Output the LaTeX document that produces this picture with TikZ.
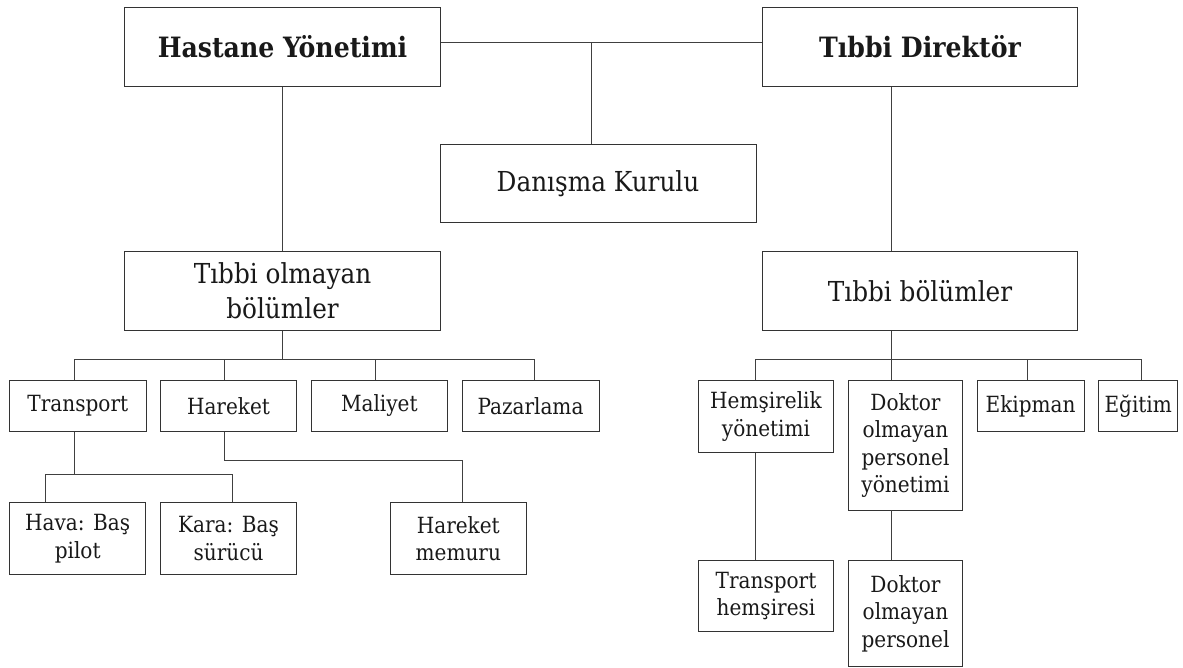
\documentclass[tikz,border=0pt]{standalone}
\usepackage{fontspec}
\setmainfont{DejaVu Serif Condensed}
\begin{document}
\begin{tikzpicture}[x=1pt,y=-1pt,
  box/.style={draw=black!80, line width=0.9pt, inner sep=0pt, align=center, text=black!90},
  top/.style={box, minimum width=316pt, minimum height=79.4pt, font=\bfseries\fontsize{28}{34}\selectfont},
  mid/.style={box, minimum width=316pt, minimum height=78.6pt, font=\fontsize{27.5}{35}\selectfont},
  small/.style={box, font=\fontsize{22.3}{27.5}\selectfont},
  conn/.style={draw=black!75, line width=0.8pt}]
\useasboundingbox (0,0) rectangle (1183,668);
% top level
\node[top] (HY) at (282.5,47) {Hastane Yönetimi};
\node[top, minimum width=315pt] (TD) at (920,47) {Tıbbi Direktör};
\node[mid] (DK) at (598,183.3) {Danışma Kurulu};
\node[mid] (TO) at (282.5,291) {Tıbbi olmayan\\bölümler};
\node[mid, minimum width=315pt] (TB) at (920,291) {Tıbbi bölümler};
% left level 2
\node[small, minimum width=136.4pt, minimum height=50.6pt] (TR) at (77.8,406) {Transport};
\node[small, minimum width=136.2pt, minimum height=50.6pt] (HA) at (228.5,406) {Hareket};
\node[small, minimum width=136.5pt, minimum height=50.6pt] (MA) at (379.3,406) {Maliyet};
\node[small, minimum width=137pt, minimum height=50.6pt] (PA) at (530.5,406) {Pazarlama};
% left level 3
\node[small, minimum width=136.2pt, minimum height=71.6pt] (HV) at (77.7,538.5) {Hava: Baş\\pilot};
\node[small, minimum width=136.2pt, minimum height=71.6pt] (KA) at (228.5,538.5) {Kara: Baş\\sürücü};
\node[small, minimum width=136.6pt, minimum height=71.6pt] (HM) at (458.3,538.5) {Hareket\\memuru};
% right level 2
\node[small, minimum width=135.4pt, minimum height=71.6pt] (HE) at (766,416.5) {Hemşirelik\\yönetimi};
\node[small, minimum width=114.4pt, minimum height=129.3pt] (DY) at (905.5,445.3) {Doktor\\olmayan\\personel\\yönetimi};
\node[small, minimum width=106.8pt, minimum height=50.6pt] (EK) at (1030.6,406) {Ekipman};
\node[small, minimum width=79.2pt, minimum height=50.6pt] (EG) at (1138.2,406) {Eğitim};
% right level 3
\node[small, minimum width=135.4pt, minimum height=71.4pt] (TH) at (766,596) {Transport\\hemşiresi};
\node[small, minimum width=114.4pt, minimum height=106.4pt] (DP) at (905.5,613.5) {Doktor\\olmayan\\personel};
% connectors top
\coordinate (j1) at (591,42.7);
\draw[conn] ([yshift=4.3pt]HY.east) -- ([yshift=4.3pt]TD.west);
\draw[conn] (j1) -- (j1 |- DK.north);
\draw[conn] (HY.south) -- (TO.north);
\draw[conn] ([xshift=-29pt]TD.south) -- ([xshift=-29pt]TB.north);
% left bus
\coordinate (busL) at (282.5,359);
\draw[conn] (TO.south) -- (busL);
\draw[conn] ([xshift=-3.8pt]TR.north) |- (busL);
\draw[conn] ([xshift=-3.9pt]HA.north) |- (busL);
\draw[conn] ([xshift=-4.3pt]MA.north) |- (busL);
\draw[conn] ([xshift=3.5pt]PA.north) |- (busL);
% transport children
\coordinate (busT) at (74,474.3);
\draw[conn] ([xshift=-3.8pt]TR.south) -- (busT);
\draw[conn] ([xshift=-32.2pt]HV.north) |- (busT);
\draw[conn] ([xshift=3.8pt]KA.north) |- (busT);
% hareket child
\draw[conn] ([xshift=-3.9pt]HA.south) -- ++(0,28.7) -| ([xshift=3.7pt]HM.north);
% right bus
\coordinate (busR) at (891,359);
\draw[conn] ([xshift=-29pt]TB.south) -- (busR);
\draw[conn] ([xshift=-10.3pt]HE.north) |- (busR);
\draw[conn] ([xshift=-14.5pt]DY.north) |- (busR);
\draw[conn] ([xshift=-3.2pt]EK.north) |- (busR);
\draw[conn] ([xshift=3.6pt]EG.north) |- (busR);
% right children
\draw[conn] ([xshift=-10.3pt]HE.south) -- ([xshift=-10.3pt]TH.north);
\draw[conn] ([xshift=-14.5pt]DY.south) -- ([xshift=-14.5pt]DP.north);
\end{tikzpicture}
\end{document}
